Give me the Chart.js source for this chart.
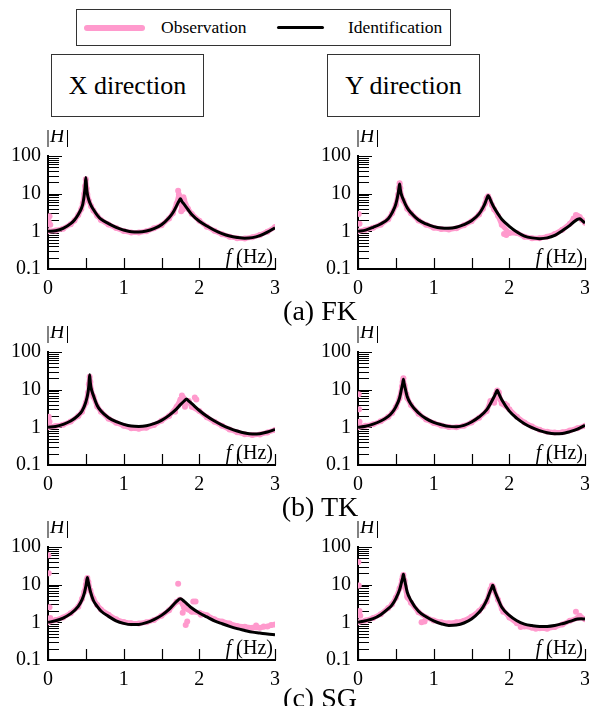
<!DOCTYPE html>
<html>
<head>
<meta charset="utf-8">
<script src="https://cdn.jsdelivr.net/npm/chart.js@4.4.0/dist/chart.umd.min.js"></script>
<style>
  html, body { margin: 0; padding: 0; background: #fff; }
  body { width: 589px; height: 706px; overflow: hidden; position: relative;
         font-family: "Liberation Serif", "Times New Roman", serif; color: #000; }
  .box { position: absolute; box-sizing: border-box; border: 1px solid #333; background: #fff; }
  .dir { font-size: 26px; line-height: 61px; text-align: center; }
  .panel { position: absolute; }
  .row { position: absolute; left: 220px; width: 200px; text-align: center; font-size: 28px; line-height: 27px; white-space: nowrap; }
  .leg { position: absolute; top: 0; font-size: 17.5px; line-height: 35px; white-space: nowrap; }
</style>
</head>
<body>

<div class="box" style="left:76px;top:9px;width:375px;height:37px;">
  <div style="position:absolute;left:7px;top:15px;width:61px;height:6px;border-radius:3px;background:#ff9acd;"></div>
  <div class="leg" style="left:84px;">Observation</div>
  <div style="position:absolute;left:200px;top:16px;width:47px;height:3px;border-radius:1.5px;background:#000;"></div>
  <div class="leg" style="left:271px;">Identification</div>
</div>
<div class="box dir" style="left:51px;top:54px;width:153px;height:63px;">X direction</div>
<div class="box dir" style="left:327px;top:54px;width:153px;height:63px;">Y direction</div>

<div class="panel" style="left:0px;top:130px;"><canvas id="xfk" width="290" height="170"></canvas></div>
<div class="panel" style="left:310px;top:130px;"><canvas id="yfk" width="289" height="170"></canvas></div>
<div class="panel" style="left:0px;top:326px;"><canvas id="xtk" width="290" height="170"></canvas></div>
<div class="panel" style="left:310px;top:326px;"><canvas id="ytk" width="289" height="170"></canvas></div>
<div class="panel" style="left:0px;top:521px;"><canvas id="xsg" width="290" height="170"></canvas></div>
<div class="panel" style="left:310px;top:521px;"><canvas id="ysg" width="289" height="170"></canvas></div>

<div class="row" style="top:297px;">(a) FK</div>
<div class="row" style="top:493px;">(b) TK</div>
<div class="row" style="top:684px;">(c) SG</div>

<script>
// tick positions
const xTickValues = [0, 0.5, 1, 1.5, 2, 2.5, 3];
const yTickValues = [0.1, 0.2, 0.3, 0.4, 0.5, 0.6, 0.7, 0.8, 0.9,
                     1, 2, 3, 4, 5, 6, 7, 8, 9,
                     10, 20, 30, 40, 50, 60, 70, 80, 90, 100];
const yTickLabels = { 0.1: '0.1', 1: '1', 10: '10', 100: '100' };

// (a) FK, X direction
const fXFK   = [0, 0.1, 0.2, 0.3, 0.35, 0.4, 0.44, 0.46, 0.48, 0.49, 0.5, 0.51, 0.52, 0.54, 0.57, 0.6, 0.65, 0.7, 0.8, 0.9, 1.0, 1.1, 1.2, 1.3, 1.4, 1.5, 1.6, 1.65, 1.7, 1.73, 1.75, 1.77, 1.8, 1.85, 1.9, 2.0, 2.1, 2.2, 2.3, 2.4, 2.5, 2.6, 2.7, 2.8, 2.9, 3.0];
const idXFK  = [1.0, 1.04, 1.2, 1.6, 2.0, 2.8, 4.0, 5.3, 9.5, 15, 27, 15, 10, 6.8, 4.8, 3.8, 2.7, 2.1, 1.6, 1.28, 1.08, 0.97, 0.96, 1.02, 1.18, 1.5, 2.3, 3.1, 4.8, 6.3, 7.3, 6.2, 5.2, 3.8, 2.8, 1.85, 1.38, 1.07, 0.87, 0.75, 0.69, 0.66, 0.68, 0.77, 0.95, 1.25];
const obsXFK = [1.0, 1.05, 1.18, 1.55, 1.95, 2.7, 3.9, 5.5, 10, 16, 24, 14, 9.5, 6.5, 4.6, 3.6, 2.6, 2.0, 1.52, 1.22, 1.02, 0.93, 0.93, 1.0, 1.2, 1.45, 2.2, 3.0, 5.4, 9.5, 6.5, 4.0, 6.8, 4.0, 2.9, 1.9, 1.33, 1.03, 0.84, 0.72, 0.66, 0.65, 0.7, 0.8, 0.98, 1.3];
const outFXFK = [0.01, 0.02, 0.03, 1.72, 1.76, 1.78, 1.79];
const outVXFK = [1.8, 2.5, 1.5, 12, 3.4, 3.8, 8.0];

// (a) FK, Y direction
const fYFK   = [0, 0.1, 0.2, 0.3, 0.4, 0.45, 0.5, 0.53, 0.54, 0.55, 0.56, 0.57, 0.6, 0.65, 0.7, 0.8, 0.9, 1.0, 1.1, 1.2, 1.3, 1.4, 1.5, 1.6, 1.65, 1.68, 1.7, 1.72, 1.74, 1.77, 1.8, 1.85, 1.9, 2.0, 2.1, 2.2, 2.3, 2.4, 2.5, 2.6, 2.7, 2.8, 2.85, 2.9, 2.93, 2.96, 3.0];
const idYFK  = [1.0, 1.08, 1.28, 1.57, 2.17, 3.1, 5.3, 10, 13.5, 18, 13, 10, 6.9, 4.2, 3.1, 2.0, 1.57, 1.33, 1.22, 1.2, 1.28, 1.5, 1.9, 2.9, 4.2, 5.6, 7.2, 9, 7.6, 5.5, 4.2, 2.9, 2.1, 1.36, 0.96, 0.75, 0.67, 0.64, 0.67, 0.78, 1.04, 1.44, 1.77, 2.08, 2.17, 1.96, 1.66];
const obsYFK = [1.0, 1.1, 1.25, 1.5, 2.1, 3.0, 5.0, 9.5, 14, 19, 14, 9, 6.5, 4.0, 3.0, 1.95, 1.5, 1.25, 1.15, 1.12, 1.2, 1.45, 1.85, 2.8, 4.0, 5.5, 7.5, 8.5, 7.0, 5.0, 3.8, 2.6, 1.5, 0.9, 0.9, 0.72, 0.66, 0.66, 0.72, 0.85, 1.1, 1.6, 2.2, 2.6, 2.4, 2.0, 1.7];
const outFYFK = [0.01, 0.02, 1.93, 1.96, 2.88];
const outVYFK = [2.9, 1.6, 0.85, 0.8, 2.7];

// (b) TK, X direction
const fXTK   = [0, 0.1, 0.2, 0.3, 0.4, 0.45, 0.5, 0.53, 0.54, 0.55, 0.56, 0.57, 0.6, 0.65, 0.7, 0.8, 0.9, 1.0, 1.1, 1.2, 1.3, 1.4, 1.5, 1.6, 1.7, 1.75, 1.8, 1.83, 1.86, 1.9, 2.0, 2.1, 2.2, 2.3, 2.4, 2.5, 2.6, 2.7, 2.8, 2.9, 3.0];
const idXTK  = [1.0, 1.05, 1.2, 1.47, 2.08, 2.7, 4.7, 8.7, 13, 25, 15, 11, 7.0, 3.8, 2.7, 1.8, 1.41, 1.2, 1.08, 1.06, 1.1, 1.25, 1.53, 2.08, 3.1, 4.0, 5.0, 5.65, 5.0, 4.25, 2.8, 1.96, 1.47, 1.15, 0.94, 0.8, 0.71, 0.67, 0.68, 0.75, 0.88];
const obsXTK = [1.0, 1.08, 1.18, 1.42, 2.0, 2.6, 4.5, 8.5, 14, 22, 16, 10, 6.5, 3.6, 2.6, 1.7, 1.32, 1.1, 0.95, 0.92, 0.98, 1.15, 1.5, 2.0, 3.5, 5.5, 4.2, 4.5, 5.0, 3.5, 2.7, 1.85, 1.4, 1.1, 0.88, 0.74, 0.66, 0.63, 0.65, 0.73, 0.85];
const outFXTK = [0.01, 0.02, 1.68, 1.72, 1.77, 1.79, 1.81, 1.94, 1.96];
const outVXTK = [1.9, 1.4, 2.6, 3.8, 7.0, 6.0, 3.5, 6.2, 5.5];

// (b) TK, Y direction
const fYTK   = [0, 0.1, 0.2, 0.3, 0.4, 0.45, 0.5, 0.55, 0.58, 0.59, 0.6, 0.61, 0.62, 0.65, 0.7, 0.8, 0.9, 1.0, 1.1, 1.2, 1.3, 1.4, 1.5, 1.6, 1.7, 1.75, 1.8, 1.82, 1.84, 1.86, 1.88, 1.9, 2.0, 2.1, 2.2, 2.3, 2.4, 2.5, 2.6, 2.7, 2.8, 2.9, 3.0];
const idYTK  = [1.0, 1.07, 1.22, 1.47, 1.96, 2.45, 3.5, 6.1, 11.8, 14.5, 19, 14.5, 11.8, 6.6, 4.1, 2.4, 1.7, 1.36, 1.18, 1.06, 1.04, 1.13, 1.39, 1.88, 2.9, 4.25, 6.6, 8.0, 9.6, 8.0, 6.5, 5.4, 2.7, 1.73, 1.25, 0.98, 0.82, 0.72, 0.68, 0.69, 0.77, 0.9, 1.13];
const obsYTK = [1.0, 1.1, 1.2, 1.45, 1.9, 2.4, 3.4, 6.0, 12, 16, 20, 13, 10, 6.0, 3.9, 2.3, 1.62, 1.3, 1.12, 1.02, 1.0, 1.1, 1.35, 1.8, 2.7, 5.0, 4.5, 7.5, 9.5, 8.5, 5.5, 4.3, 3.0, 1.9, 1.35, 1.05, 0.86, 0.76, 0.73, 0.74, 0.82, 0.95, 1.1];
const outFYTK = [0.01, 0.015, 0.02, 0.64, 1.76, 1.78, 1.94, 1.97];
const outVYTK = [7.5, 3.0, 1.4, 7.5, 4.8, 5.2, 4.2, 3.8];

// (c) SG, X direction
const fXSG   = [0, 0.1, 0.2, 0.3, 0.4, 0.45, 0.48, 0.5, 0.51, 0.52, 0.53, 0.54, 0.56, 0.6, 0.65, 0.7, 0.8, 0.9, 1.0, 1.1, 1.2, 1.3, 1.4, 1.5, 1.6, 1.7, 1.75, 1.8, 1.9, 2.0, 2.1, 2.2, 2.3, 2.4, 2.5, 2.6, 2.7, 2.8, 2.9, 3.0];
const idXSG  = [1.0, 1.1, 1.3, 1.7, 2.65, 4.0, 6.0, 9.0, 12, 15.6, 12.5, 10, 6.6, 3.8, 2.65, 2.0, 1.44, 1.1, 0.94, 0.87, 0.88, 0.98, 1.18, 1.53, 2.2, 3.6, 4.25, 3.6, 2.4, 1.77, 1.39, 1.1, 0.92, 0.78, 0.68, 0.61, 0.55, 0.52, 0.49, 0.47];
const obsXSG = [1.0, 1.15, 1.35, 1.75, 2.6, 4.2, 6.5, 10, 13, 15, 12, 9, 7, 4.2, 2.9, 2.2, 1.6, 1.2, 1.02, 0.95, 0.93, 1.0, 1.15, 1.5, 2.1, 3.5, 3.7, 2.4, 1.9, 1.8, 1.55, 1.2, 1.05, 0.93, 0.8, 0.76, 0.72, 0.72, 0.78, 0.88];
const outFXSG = [0.005, 0.01, 0.02, 0.03, 1.72, 1.74, 1.78, 1.8, 1.82, 1.84, 1.92, 1.95, 2.02, 2.75, 2.85, 2.95];
const outVXSG = [60, 20, 2.5, 1.3, 10.6, 4.0, 1.8, 2.6, 0.85, 1.05, 3.6, 3.6, 1.6, 0.82, 0.78, 0.85];

// (c) SG, Y direction
const fYSG   = [0, 0.1, 0.2, 0.3, 0.4, 0.45, 0.5, 0.55, 0.58, 0.59, 0.6, 0.61, 0.62, 0.65, 0.7, 0.8, 0.9, 1.0, 1.1, 1.2, 1.3, 1.4, 1.5, 1.6, 1.65, 1.7, 1.75, 1.77, 1.78, 1.79, 1.8, 1.85, 1.9, 2.0, 2.1, 2.2, 2.3, 2.4, 2.5, 2.6, 2.7, 2.8, 2.9, 2.95, 3.0];
const idYSG  = [1.0, 1.1, 1.25, 1.6, 2.3, 2.9, 4.25, 7.4, 12.7, 15, 19, 15, 12.3, 6.4, 3.8, 1.96, 1.41, 1.1, 0.92, 0.83, 0.85, 0.96, 1.22, 1.84, 2.5, 3.8, 6.9, 8.5, 9.6, 8.8, 7.5, 4.2, 2.5, 1.53, 1.1, 0.9, 0.82, 0.78, 0.78, 0.82, 0.92, 1.06, 1.22, 1.25, 1.22];
const obsYSG = [1.0, 1.12, 1.3, 1.65, 2.4, 3.0, 4.5, 8, 13, 16, 18, 13, 9, 4.8, 3.3, 1.85, 1.35, 1.12, 1.0, 0.95, 1.0, 1.1, 1.4, 2.0, 2.6, 3.6, 7.5, 9.5, 9.0, 8.0, 7.0, 4.0, 2.3, 1.35, 0.95, 0.78, 0.72, 0.7, 0.68, 0.75, 0.88, 1.1, 1.3, 1.35, 1.2];
const outFYSG = [0.005, 0.01, 0.02, 0.03, 0.66, 0.84, 0.88, 1.92, 2.15, 2.35, 2.88, 2.93];
const outVYSG = [40, 9.5, 2.0, 1.5, 4.5, 1.0, 1.05, 1.9, 0.75, 0.68, 1.9, 1.5];

const PINK = '#ff9acd';
const FONT = '"Liberation Serif", "Times New Roman", serif';

function isDecade(v) {
  const l = Math.log10(v);
  return Math.abs(l - Math.round(l)) < 1e-9;
}

function toXY(f, v) {
  return f.map((x, i) => ({ x: x, y: v[i] }));
}

// inward tick marks, axis lines, |H| and f (Hz)
const frame = {
  id: 'frame',
  beforeDatasetsDraw(chart) {
    const { ctx, chartArea: a, scales: { x, y } } = chart;
    ctx.save();
    ctx.strokeStyle = '#000';
    ctx.lineWidth = 1.2;
    ctx.beginPath();
    yTickValues.forEach((v) => {
      const py = Math.round(y.getPixelForValue(v)) + 0.5;
      ctx.moveTo(a.left, py);
      ctx.lineTo(a.left + (isDecade(v) ? 14 : 11), py);
    });
    xTickValues.forEach((v) => {
      const px = Math.round(x.getPixelForValue(v)) + 0.5;
      ctx.moveTo(px, a.bottom);
      ctx.lineTo(px, a.bottom - 11);
    });
    ctx.stroke();
    ctx.lineWidth = 2;
    ctx.beginPath();
    ctx.moveTo(a.left, a.top - 1);
    ctx.lineTo(a.left, a.bottom);
    ctx.lineTo(a.right + 1, a.bottom);
    ctx.stroke();

    ctx.fillStyle = '#000';
    ctx.textBaseline = 'alphabetic';
    ctx.textAlign = 'left';
    const ty = a.top - 14;
    let tx = a.left - 2;
    ctx.font = '20px ' + FONT;
    ctx.fillText('|', tx, ty);
    tx += ctx.measureText('|').width;
    ctx.font = 'italic 20px ' + FONT;
    ctx.fillText('H', tx, ty);
    tx += ctx.measureText('H').width + 1;
    ctx.font = '20px ' + FONT;
    ctx.fillText('|', tx, ty);

    ctx.textAlign = 'right';
    const hz = '(Hz)';
    ctx.fillText(hz, a.right - 2, a.bottom - 6);
    const w = ctx.measureText(hz).width;
    ctx.font = 'italic 20px ' + FONT;
    ctx.fillText('f', a.right - 2 - w - 5, a.bottom - 6);
    ctx.restore();
  }
};

function makePanel(canvasId, rightPad, f, idv, obs, outF, outV) {
  const tickFont = { family: FONT, size: 20 };
  return new Chart(document.getElementById(canvasId), {
    type: 'line',
    data: {
      datasets: [
        {
          label: 'Identification',
          data: toXY(f, idv),
          borderColor: '#000',
          borderWidth: 3,
          borderJoinStyle: 'round',
          pointRadius: 0,
          cubicInterpolationMode: 'monotone',
          order: 0,
        },
        {
          label: 'Observation outliers',
          data: toXY(outF, outV),
          showLine: false,
          pointRadius: 3,
          pointBorderWidth: 0,
          pointBackgroundColor: PINK,
          order: 1,
        },
        {
          label: 'Observation',
          data: toXY(f, obs),
          borderColor: PINK,
          borderWidth: 5,
          borderJoinStyle: 'round',
          borderCapStyle: 'round',
          pointRadius: 3,
          pointBorderWidth: 0,
          pointBackgroundColor: PINK,
          order: 2,
        },
      ],
    },
    options: {
      responsive: false,
      animation: false,
      events: [],
      layout: { padding: { top: 26, right: rightPad, left: 0, bottom: 0 } },
      plugins: { legend: { display: false }, tooltip: { enabled: false } },
      scales: {
        x: {
          type: 'linear',
          min: 0,
          max: 3,
          afterBuildTicks: (s) => { s.ticks = xTickValues.map((v) => ({ value: v })); },
          afterFit: (s) => { s.height = 31; },
          grid: { display: false, drawTicks: false },
          border: { display: false },
          ticks: {
            autoSkip: false,
            maxRotation: 0,
            padding: 8,
            color: '#000',
            font: tickFont,
            callback: (v) => (Number.isInteger(v) ? String(v) : ''),
          },
        },
        y: {
          type: 'logarithmic',
          min: 0.1,
          max: 100,
          afterBuildTicks: (s) => { s.ticks = yTickValues.map((v) => ({ value: v })); },
          afterFit: (s) => { s.width = 48; },
          grid: { display: false, drawTicks: false },
          border: { display: false },
          ticks: {
            autoSkip: false,
            padding: 7,
            color: '#000',
            font: tickFont,
            callback: (v) => (isDecade(v) ? yTickLabels[v] : ''),
          },
        },
      },
    },
    plugins: [frame],
  });
}

makePanel('xfk', 15, fXFK, idXFK, obsXFK, outFXFK, outVXFK);
makePanel('yfk', 14, fYFK, idYFK, obsYFK, outFYFK, outVYFK);
makePanel('xtk', 15, fXTK, idXTK, obsXTK, outFXTK, outVXTK);
makePanel('ytk', 14, fYTK, idYTK, obsYTK, outFYTK, outVYTK);
makePanel('xsg', 15, fXSG, idXSG, obsXSG, outFXSG, outVXSG);
makePanel('ysg', 14, fYSG, idYSG, obsYSG, outFYSG, outVYSG);
</script>
</body>
</html>
